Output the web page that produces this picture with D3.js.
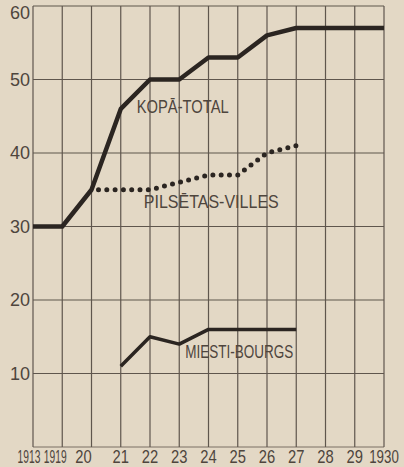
<!DOCTYPE html>
<html>
<head>
<meta charset="utf-8">
<script src="https://cdn.jsdelivr.net/npm/d3@7"></script>
<style>
  body { margin: 0; background: #e3d8c5; }
  text { font-family: 'Liberation Sans', 'DejaVu Sans', sans-serif; }
</style>
</head>
<body>
<script>
var years = ['1913', '1919', '1920', '1921', '1922', '1923', '1924', '1925', '1926', '1927', '1928', '1929', '1930'];
var yearLabels = ['1913', '1919', '20', '21', '22', '23', '24', '25', '26', '27', '28', '29', '1930'];
var yTicks = [10, 20, 30, 40, 50, 60];

// KOPĀ - TOTAL
var totalValues = [30, 30, 35, 46, 50, 50, 53, 53, 56, 57, 57, 57, 57];
// PILSĒTAS - VILLES
var townValues = [null, null, 35, 35, 35, 36, 37, 37, 40, 41, null, null, null];
// MIESTI - BOURGS
var bourgValues = [null, null, null, 11, 15, 14, 16, 16, 16, 16, null, null, null];

var width = 404, height = 467;
var ink = '#2b2521', gridInk = '#5f564d', textInk = '#4e453d';

var x = d3.scalePoint().domain(years).range([33, 384]);
var y = d3.scaleLinear().domain([0, 60]).range([447, 6]);

var svg = d3.select('body')
  .append('svg')
  .attr('width', width)
  .attr('height', height)
  .style('display', 'block')
  .style('background-color', '#e3d8c5');

// grid
svg.append('g')
  .selectAll('line')
  .data(years)
  .enter()
  .append('line')
  .attr('x1', d => x(d))
  .attr('x2', d => x(d))
  .attr('y1', y(60))
  .attr('y2', y(0))
  .attr('stroke', gridInk)
  .attr('stroke-width', 1.2);

svg.append('g')
  .selectAll('line')
  .data([0].concat(yTicks))
  .enter()
  .append('line')
  .attr('x1', x('1913'))
  .attr('x2', x('1930'))
  .attr('y1', d => y(d))
  .attr('y2', d => y(d))
  .attr('stroke', gridInk)
  .attr('stroke-width', d => d == 0 ? 0.8 : 1.2);

// y labels
svg.append('g')
  .selectAll('text')
  .data(yTicks)
  .enter()
  .append('text')
  .attr('x', x('1913') - 3)
  .attr('y', d => y(d))
  .attr('dy', d => d == 60 ? '0.7em' : '0.35em')
  .attr('text-anchor', 'end')
  .attr('font-size', 18)
  .attr('fill', textInk)
  .text(d => d);

// x labels: squeezed horizontally, the first ones pushed left as in the print
var xShift = {'1913': -4, '1919': -7, '1920': -8};
var xSquash = {'1913': 0.57, '1919': 0.57, '1930': 0.74};
svg.append('g')
  .selectAll('text')
  .data(years)
  .enter()
  .append('text')
  .attr('transform', d => 'translate(' + (x(d) + (xShift[d] || 0)) + ',463) scale(' + (xSquash[d] || 0.82) + ',1)')
  .attr('text-anchor', 'middle')
  .attr('font-size', 18)
  .attr('fill', textInk)
  .text((d, i) => yearLabels[i]);

var line = d3.line()
  .defined(d => d.v != null)
  .x(d => x(d.year))
  .y(d => y(d.v));

function series(values) {
  return years.map((yr, i) => ({year: yr, v: values[i]}));
}

svg.append('path')
  .datum(series(townValues))
  .attr('d', line)
  .attr('fill', 'none')
  .attr('stroke', ink)
  .attr('stroke-width', 5)
  .attr('stroke-linecap', 'round')
  .attr('stroke-dasharray', '0 8.3')
  .attr('stroke-dashoffset', 1.3);

svg.append('path')
  .datum(series(totalValues))
  .attr('d', line)
  .attr('fill', 'none')
  .attr('stroke', ink)
  .attr('stroke-width', 4.5)
  .attr('stroke-linejoin', 'round');

svg.append('path')
  .datum(series(bourgValues))
  .attr('d', line)
  .attr('fill', 'none')
  .attr('stroke', ink)
  .attr('stroke-width', 3.5)
  .attr('stroke-linejoin', 'round');

// series labels
var labels = [
  {text: 'KOPĀ-TOTAL', year: '1921', dx: 16, v: 45.4, len: 92},
  {text: 'PILSĒTAS-VILLES', year: '1921', dx: 23, v: 32.5, len: 135},
  {text: 'MIESTI-BOURGS', year: '1923', dx: 6, v: 12.1, len: 108}
];

svg.append('g')
  .selectAll('text')
  .data(labels)
  .enter()
  .append('text')
  .attr('x', d => x(d.year) + d.dx)
  .attr('y', d => y(d.v))
  .attr('font-size', 18)
  .attr('fill', textInk)
  .attr('textLength', d => d.len)
  .attr('lengthAdjust', 'spacingAndGlyphs')
  .text(d => d.text);
</script>
</body>
</html>
